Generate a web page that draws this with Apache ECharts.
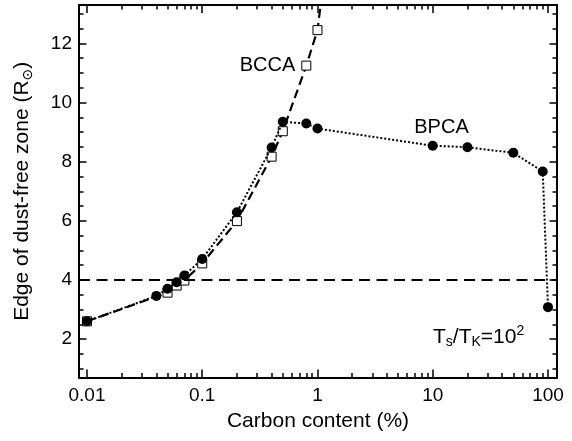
<!DOCTYPE html>
<html><head><meta charset="utf-8">
<script src="https://cdn.jsdelivr.net/npm/echarts@6/dist/echarts.min.js"></script>
<style>html,body{margin:0;padding:0;background:#fff}#c{width:572px;height:441px}</style>
</head><body><div id="c"></div>
<script>
// ---- data ----
const xMajorTicks = [0.01, 0.1, 1, 10, 100];
const xTickLabels = ['0.01', '0.1', '1', '10', '100'];
const xMinorTicks = [0.02,0.03,0.04,0.05,0.06,0.07,0.08,0.09,
                     0.2,0.3,0.4,0.5,0.6,0.7,0.8,0.9,
                     2,3,4,5,6,7,8,9,
                     20,30,40,50,60,70,80,90];
const yMajorTicks = [2, 4, 6, 8, 10, 12];
const yMinorTicks = [1,1.5,2.5,3,3.5,4.5,5,5.5,6.5,7,7.5,8.5,9,9.5,10.5,11,11.5,12.5,13];

const bccaX = [0.01, 0.05, 0.06, 0.07, 0.1, 0.2, 0.4, 0.5, 0.8, 1.0];
const bccaY = [2.6, 3.57, 3.81, 3.98, 4.56, 5.99, 8.17, 9.03, 11.25, 12.45];
const bccaTailX = 1.065, bccaTailY = 13.3;   // line continues beyond last marker

const bpcaX = [0.01, 0.04, 0.05, 0.06, 0.07, 0.1, 0.2, 0.4, 0.5, 0.8, 1.0, 10, 20, 50, 90, 100];
const bpcaY = [2.6, 3.46, 3.70, 3.92, 4.15, 4.71, 6.29, 8.48, 9.35, 9.29, 9.12, 8.54, 8.49, 8.30, 7.67, 3.08];

const thresholdY = 4;

const X_MIN = 0.00853, X_MAX = 119.7;
const Y_MIN = 0.7, Y_MAX = 13.3;
const FONT = 'Liberation Sans, Arial, Helvetica, sans-serif';

// ---- chart ----
const chart = echarts.init(document.getElementById('c'), null, {renderer: 'canvas'});

function xAx(pos, ticks, len, main, labels) {
  const a = {
    type: 'log', logBase: 10, min: X_MIN, max: X_MAX, position: pos,
    axisLine: {show: main, onZero: false, lineStyle: {color: '#000', width: 2}},
    axisTick: {show: true, inside: true, length: len, customValues: ticks, lineStyle: {color: '#000', width: 1.5}},
    axisLabel: {show: false},
    splitLine: {show: false}, minorTick: {show: false}, minorSplitLine: {show: false}
  };
  if (labels) {
    a.axisLabel = {show: true, customValues: xMajorTicks, margin: 9, color: '#000',
      fontSize: 19, fontFamily: FONT,
      formatter: v => {
        let best = 0;
        xMajorTicks.forEach((t, i) => { if (Math.abs(Math.log10(t) - Math.log10(v)) < Math.abs(Math.log10(xMajorTicks[best]) - Math.log10(v))) best = i; });
        return xTickLabels[best];
      }};
    a.name = 'Carbon content (%)';
    a.nameLocation = 'middle';
    a.nameGap = 31;
    a.nameTextStyle = {color: '#000', fontSize: 21, fontFamily: FONT};
  }
  return a;
}
function yAx(pos, ticks, len, main, labels) {
  const a = {
    type: 'value', min: Y_MIN, max: Y_MAX, position: pos,
    axisLine: {show: main, onZero: false, lineStyle: {color: '#000', width: 2}},
    axisTick: {show: true, inside: true, length: len, customValues: ticks, lineStyle: {color: '#000', width: 1.5}},
    axisLabel: {show: false},
    splitLine: {show: false}, minorTick: {show: false}, minorSplitLine: {show: false}
  };
  if (labels) {
    a.axisLabel = {show: true, customValues: yMajorTicks, margin: 7, color: '#000', fontSize: 19, fontFamily: FONT};
    a.name = 'Edge of dust-free zone (R{sub|⊙})';
    a.nameLocation = 'middle';
    a.nameGap = 44;
    a.nameTextStyle = {color: '#000', fontSize: 21, fontFamily: FONT, lineHeight: 25,
      rich: {sub: {fontSize: 14, lineHeight: 13, verticalAlign: 'bottom', fontFamily: 'DejaVu Sans, sans-serif', color: '#000'}}};
  }
  return a;
}

const bccaData = bccaX.map((x, i) => [x, bccaY[i]]);
bccaData.push({value: [bccaTailX, bccaTailY], symbol: 'none'});
const bpcaData = bpcaX.map((x, i) => [x, bpcaY[i]]);

const option = {
  backgroundColor: '#fff',
  animation: false,
  grid: {left: 79, right: 15, top: 5, bottom: 63.5, containLabel: false, outerBoundsMode: 'none'},
  xAxis: [
    xAx('bottom', xMajorTicks, 8, true, true),
    xAx('bottom', xMinorTicks, 4.5, false, false),
    xAx('top', xMajorTicks, 8, true, false),
    xAx('top', xMinorTicks, 4.5, false, false)
  ],
  yAxis: [
    yAx('left', yMajorTicks, 7.5, true, true),
    yAx('left', yMinorTicks, 4.5, false, false),
    yAx('right', yMajorTicks, 7.5, true, false),
    yAx('right', yMinorTicks, 4.5, false, false)
  ],
  series: [
    {
      name: 'BCCA', type: 'line', xAxisIndex: 0, yAxisIndex: 0,
      data: bccaData, symbol: 'rect', symbolSize: 9, showAllSymbol: true,
      itemStyle: {color: '#fff', borderColor: '#000', borderWidth: 1},
      lineStyle: {color: '#000', width: 2.2, type: [9, 5]},
      markLine: {
        silent: true, symbol: 'none', label: {show: false},
        lineStyle: {color: '#000', width: 2, type: [11, 6.5]},
        data: [{yAxis: thresholdY}]
      },
      z: 2
    },
    {
      name: 'BPCA', type: 'line', xAxisIndex: 0, yAxisIndex: 0,
      data: bpcaData, symbol: 'circle', symbolSize: 10, showAllSymbol: true,
      itemStyle: {color: '#000', borderColor: '#000', borderWidth: 0},
      lineStyle: {color: '#000', width: 2, type: [2, 2]},
      z: 3
    }
  ],
  graphic: [
    {type: 'text', x: 267.5, y: 65, style: {text: 'BCCA', fill: '#000', font: '20px ' + FONT, align: 'center', verticalAlign: 'middle'}},
    {type: 'text', x: 441.5, y: 127.5, style: {text: 'BPCA', fill: '#000', font: '20px ' + FONT, align: 'center', verticalAlign: 'middle'}},
    {type: 'text', x: 433, y: 337, style: {
      text: 'T{sub|s}/T{sub|K}=10{sup|2}', fill: '#000', fontSize: 21, fontFamily: FONT, lineHeight: 25,
      align: 'left', verticalAlign: 'middle',
      rich: {
        sub: {fontSize: 14, lineHeight: 13, verticalAlign: 'bottom', fill: '#000', fontFamily: FONT},
        sup: {fontSize: 14, lineHeight: 13, verticalAlign: 'top', fill: '#000', fontFamily: FONT}
      }}}
  ]
};
chart.setOption(option);
</script></body></html>
